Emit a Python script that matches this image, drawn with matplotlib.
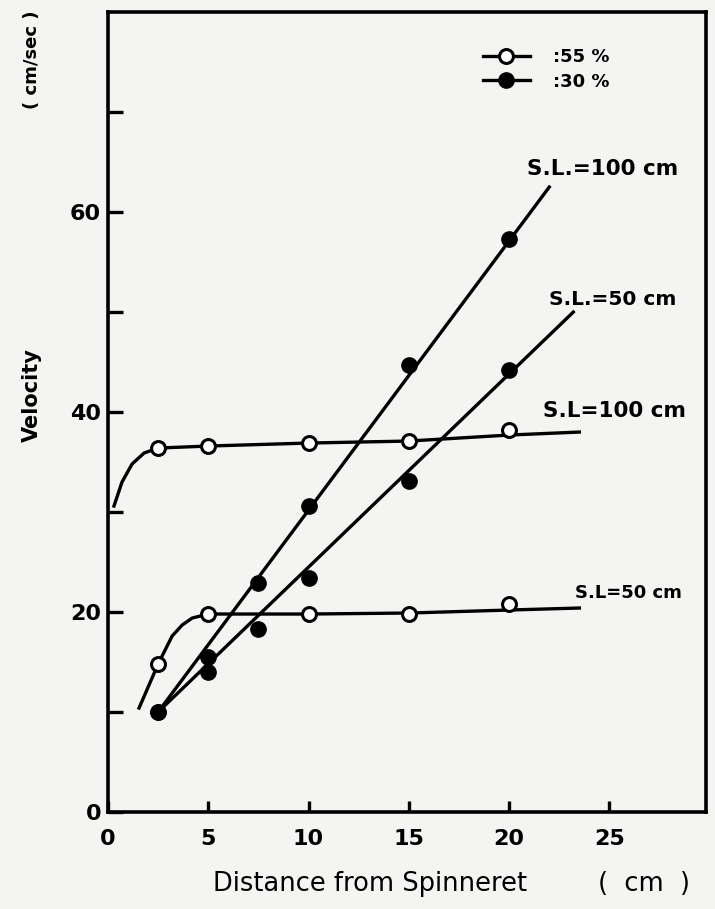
import matplotlib
matplotlib.use("Agg")
import matplotlib.pyplot as plt
from matplotlib.lines import Line2D

# distance from spinneret (cm) where velocity was measured
dist = [2.5, 5, 7.5, 10, 15, 20]
dist_open = [2.5, 5, 10, 15, 20]

# 30 % (filled symbols)
v30_sl100 = [10.0, 15.5, 22.9, 30.6, 44.7, 57.3]
v30_sl50 = [10.0, 14.0, 18.3, 23.4, 33.1, 44.2]
# straight fitted lines, end points
fit30_sl100_x = [2.5, 22.0]
fit30_sl100_y = [10.0, 62.5]
fit30_sl50_x = [2.5, 23.2]
fit30_sl50_y = [10.0, 50.0]

# 55 % (open symbols)
v55_sl100 = [36.4, 36.6, 36.9, 37.1, 38.2]
v55_sl50 = [14.8, 19.8, 19.8, 19.8, 20.8]
# hand drawn curves
curve55_sl100_x = [0.3, 0.7, 1.2, 1.8, 2.5, 5, 10, 15, 20, 23.5]
curve55_sl100_y = [30.6, 33.0, 34.8, 35.9, 36.4, 36.6, 36.9, 37.1, 37.7, 38.0]
curve55_sl50_x = [1.55, 2.5, 3.2, 3.7, 4.2, 5, 10, 15, 20, 23.5]
curve55_sl50_y = [10.4, 14.8, 17.6, 18.7, 19.4, 19.8, 19.8, 19.9, 20.2, 20.4]

xticks = [0, 5, 10, 15, 20, 25]
yticks_major = [0, 20, 40, 60]
yticks_minor = [10, 30, 50, 70]

fig = plt.figure(figsize=(7.15, 9.09), dpi=100)
fig.patch.set_facecolor('#f4f4f2')
ax = fig.add_axes([0.151, 0.1067, 0.836, 0.880])
ax.set_facecolor('#f4f4f2')

lw = 2.4
ax.plot(fit30_sl100_x, fit30_sl100_y, color='black', lw=lw)
ax.plot(fit30_sl50_x, fit30_sl50_y, color='black', lw=lw)
ax.plot(curve55_sl100_x, curve55_sl100_y, color='black', lw=lw)
ax.plot(curve55_sl50_x, curve55_sl50_y, color='black', lw=lw)

ax.plot(dist, v30_sl100, 'o', color='black', ms=11, zorder=3)
ax.plot(dist, v30_sl50, 'o', color='black', ms=11, zorder=3)
ax.plot(dist_open, v55_sl100, 'o', mfc='white', mec='black', mew=2.2, ms=10, zorder=3)
ax.plot(dist_open, v55_sl50, 'o', mfc='white', mec='black', mew=2.2, ms=10, zorder=3)

txt = dict(fontweight='bold', va='center', ha='left')
ax.text(20.9, 64.3, 'S.L.=100 cm', fontsize=15.5, **txt)
ax.text(22.0, 51.3, 'S.L.=50 cm', fontsize=14.5, **txt)
ax.text(21.7, 40.1, 'S.L=100 cm', fontsize=15.5, **txt)
ax.text(23.3, 21.9, 'S.L=50 cm', fontsize=13, **txt)

handles = [
    Line2D([], [], color='black', lw=lw, marker='o', mfc='white', mec='black', mew=2.2, ms=10),
    Line2D([], [], color='black', lw=lw, marker='o', ms=11),
]
ax.legend(handles, [':55 %', ':30 %'], loc='upper left', bbox_to_anchor=(0.6, 0.975),
          frameon=False, handlelength=2.6, prop={'size': 13, 'weight': 'bold'},
          labelspacing=0.35, handletextpad=1.3)

ax.set_xlim(0, 29.8)
ax.set_ylim(0, 80)
ax.set_xticks(xticks)
ax.set_yticks(yticks_major)
ax.set_yticks(yticks_minor, minor=True)
ax.tick_params(axis='both', which='both', direction='in', width=2.4,
               labelsize=16, top=False, right=False)
ax.tick_params(axis='y', which='both', length=11, pad=5)
ax.tick_params(axis='x', which='major', length=8, pad=12)
ax.set_yticklabels([str(v) for v in yticks_major], fontweight='bold')
ax.set_xticklabels([str(v) for v in xticks], fontweight='bold')
for s in ax.spines.values():
    s.set_linewidth(2.6)

fig.text(0.298, 0.027, 'Distance from Spinneret', fontsize=18.5, ha='left', va='center')
fig.text(0.836, 0.027, '(  cm  )', fontsize=18.5, ha='left', va='center')
fig.text(0.045, 0.565, 'Velocity', fontsize=15, fontweight='bold', rotation=90, ha='center', va='center')
fig.text(0.045, 0.934, '( cm/sec )', fontsize=13, fontweight='bold', rotation=90, ha='center', va='center')

plt.savefig('out.png', dpi=100, facecolor=fig.get_facecolor())
